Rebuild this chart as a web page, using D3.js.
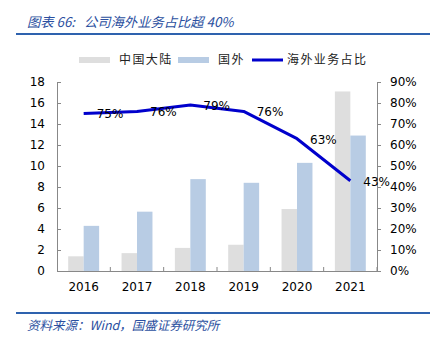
<!DOCTYPE html>
<html><head><meta charset="utf-8">
<script src="https://cdn.jsdelivr.net/npm/d3@7"></script>
<style>body{margin:0;background:#fff;}svg{display:block;}</style>
</head><body>
<script>
const years = ["2016","2017","2018","2019","2020","2021"];
const domestic = [1.4, 1.7, 2.2, 2.5, 5.9, 17.1];
const overseas = [4.3, 5.65, 8.75, 8.4, 10.3, 12.9];
const overseasShare = [75, 76, 79, 76, 63, 43];
const leftTicks = [0,2,4,6,8,10,12,14,16,18];
const rightTicks = [0,10,20,30,40,50,60,70,80,90];
const seriesNames = ["中国大陆","国外","海外业务占比"];

const W=431,H=342;
const svg=d3.select("body").append("svg").attr("width",W).attr("height",H);
const num="'DejaVu Sans', Verdana, sans-serif";
const cjk="'Noto Sans CJK SC', sans-serif";
const L=57,R=377,T=82,B=271;

// Title
svg.append("text").attr("x",27).attr("y",27).attr("font-family",cjk).attr("font-size",13.3)
  .attr("font-style","italic").attr("fill","#2B4FA0").style("white-space","pre").text("图表 66:   公司海外业务占比超 40%");
svg.append("line").attr("x1",16).attr("x2",430).attr("y1",34).attr("y2",34).attr("stroke","#2E62AE").attr("stroke-width",2);

const x0=d3.scaleBand().domain(years).range([L,R]);
const bw=x0.bandwidth();
const x1=d3.scaleBand().domain(["d","o"]).range([bw*0.21,bw*0.79]);
const yL=d3.scaleLinear().domain([0,18]).range([B,T]);
const yR=d3.scaleLinear().domain([0,90]).range([B,T]);

// bars
const g=svg.append("g");
years.forEach((yr,i)=>{
  g.append("rect").attr("x",x0(yr)+x1("d")).attr("width",x1.bandwidth()).attr("y",yL(domestic[i])).attr("height",B-yL(domestic[i])).attr("fill","#DEDEDE");
  g.append("rect").attr("x",x0(yr)+x1("o")).attr("width",x1.bandwidth()).attr("y",yL(overseas[i])).attr("height",B-yL(overseas[i])).attr("fill","#B8CCE4");
});

// axes
const axisColor="#888";
const la=svg.append("g").attr("transform",`translate(${L},0)`).call(d3.axisLeft(yL).tickValues(leftTicks).tickSize(-4).tickPadding(12));
const ra=svg.append("g").attr("transform",`translate(${R},0)`).call(d3.axisRight(yR).tickValues(rightTicks).tickSize(4).tickPadding(9).tickFormat(d=>d+"%"));
const ba=svg.append("g").attr("transform",`translate(0,${B})`).call(d3.axisBottom(x0).tickSize(0).tickPadding(11));
[la,ra,ba].forEach(a=>{a.selectAll("path").attr("stroke",axisColor);a.selectAll("line").attr("stroke",axisColor);
  a.selectAll("text").attr("font-family",num).attr("font-size",12).attr("fill","#000");});
// x-axis separators
const sepPos=years.slice(1).map(y=>x0(y)).concat([R]);
svg.append("g").selectAll("line").data(sepPos).join("line").attr("x1",d=>d).attr("x2",d=>d).attr("y1",B-4).attr("y2",B).attr("stroke",axisColor);

// line
const line=d3.line().x((d,i)=>x0(years[i])+bw/2).y(d=>yR(d));
svg.append("path").datum(overseasShare).attr("d",line).attr("fill","none").attr("stroke","#0000CC").attr("stroke-width",3).attr("stroke-linejoin","round");
svg.append("g").selectAll("text").data(overseasShare).join("text")
  .attr("x",(d,i)=>x0(years[i])+bw/2+13).attr("y",d=>yR(d)).attr("dy","0.4em")
  .attr("font-family",num).attr("font-size",12).attr("fill","#000").text(d=>d+"%");

// legend
const lg=svg.append("g").attr("font-family",cjk).attr("font-size",12).attr("fill","#222");
lg.append("rect").attr("x",79).attr("y",57).attr("width",31).attr("height",6).attr("fill","#DEDEDE");
lg.append("text").attr("x",119).attr("y",64).attr("letter-spacing",1.4).text(seriesNames[0]);
lg.append("rect").attr("x",178).attr("y",57).attr("width",31).attr("height",6).attr("fill","#B8CCE4");
lg.append("text").attr("x",218).attr("y",64).attr("letter-spacing",1.4).text(seriesNames[1]);
lg.append("line").attr("x1",252).attr("x2",283).attr("y1",60).attr("y2",60).attr("stroke","#0000CC").attr("stroke-width",3);
lg.append("text").attr("x",287).attr("y",64).attr("letter-spacing",1.4).text(seriesNames[2]);

// footer
svg.append("line").attr("x1",16).attr("x2",430).attr("y1",313).attr("y2",313).attr("stroke","#2E62AE").attr("stroke-width",2);
svg.append("text").attr("x",27).attr("y",330).attr("font-family",cjk).attr("font-size",12.5)
  .attr("font-style","italic").attr("fill","#2B4FA0").text("资料来源：Wind，国盛证券研究所");
</script>
</body></html>
